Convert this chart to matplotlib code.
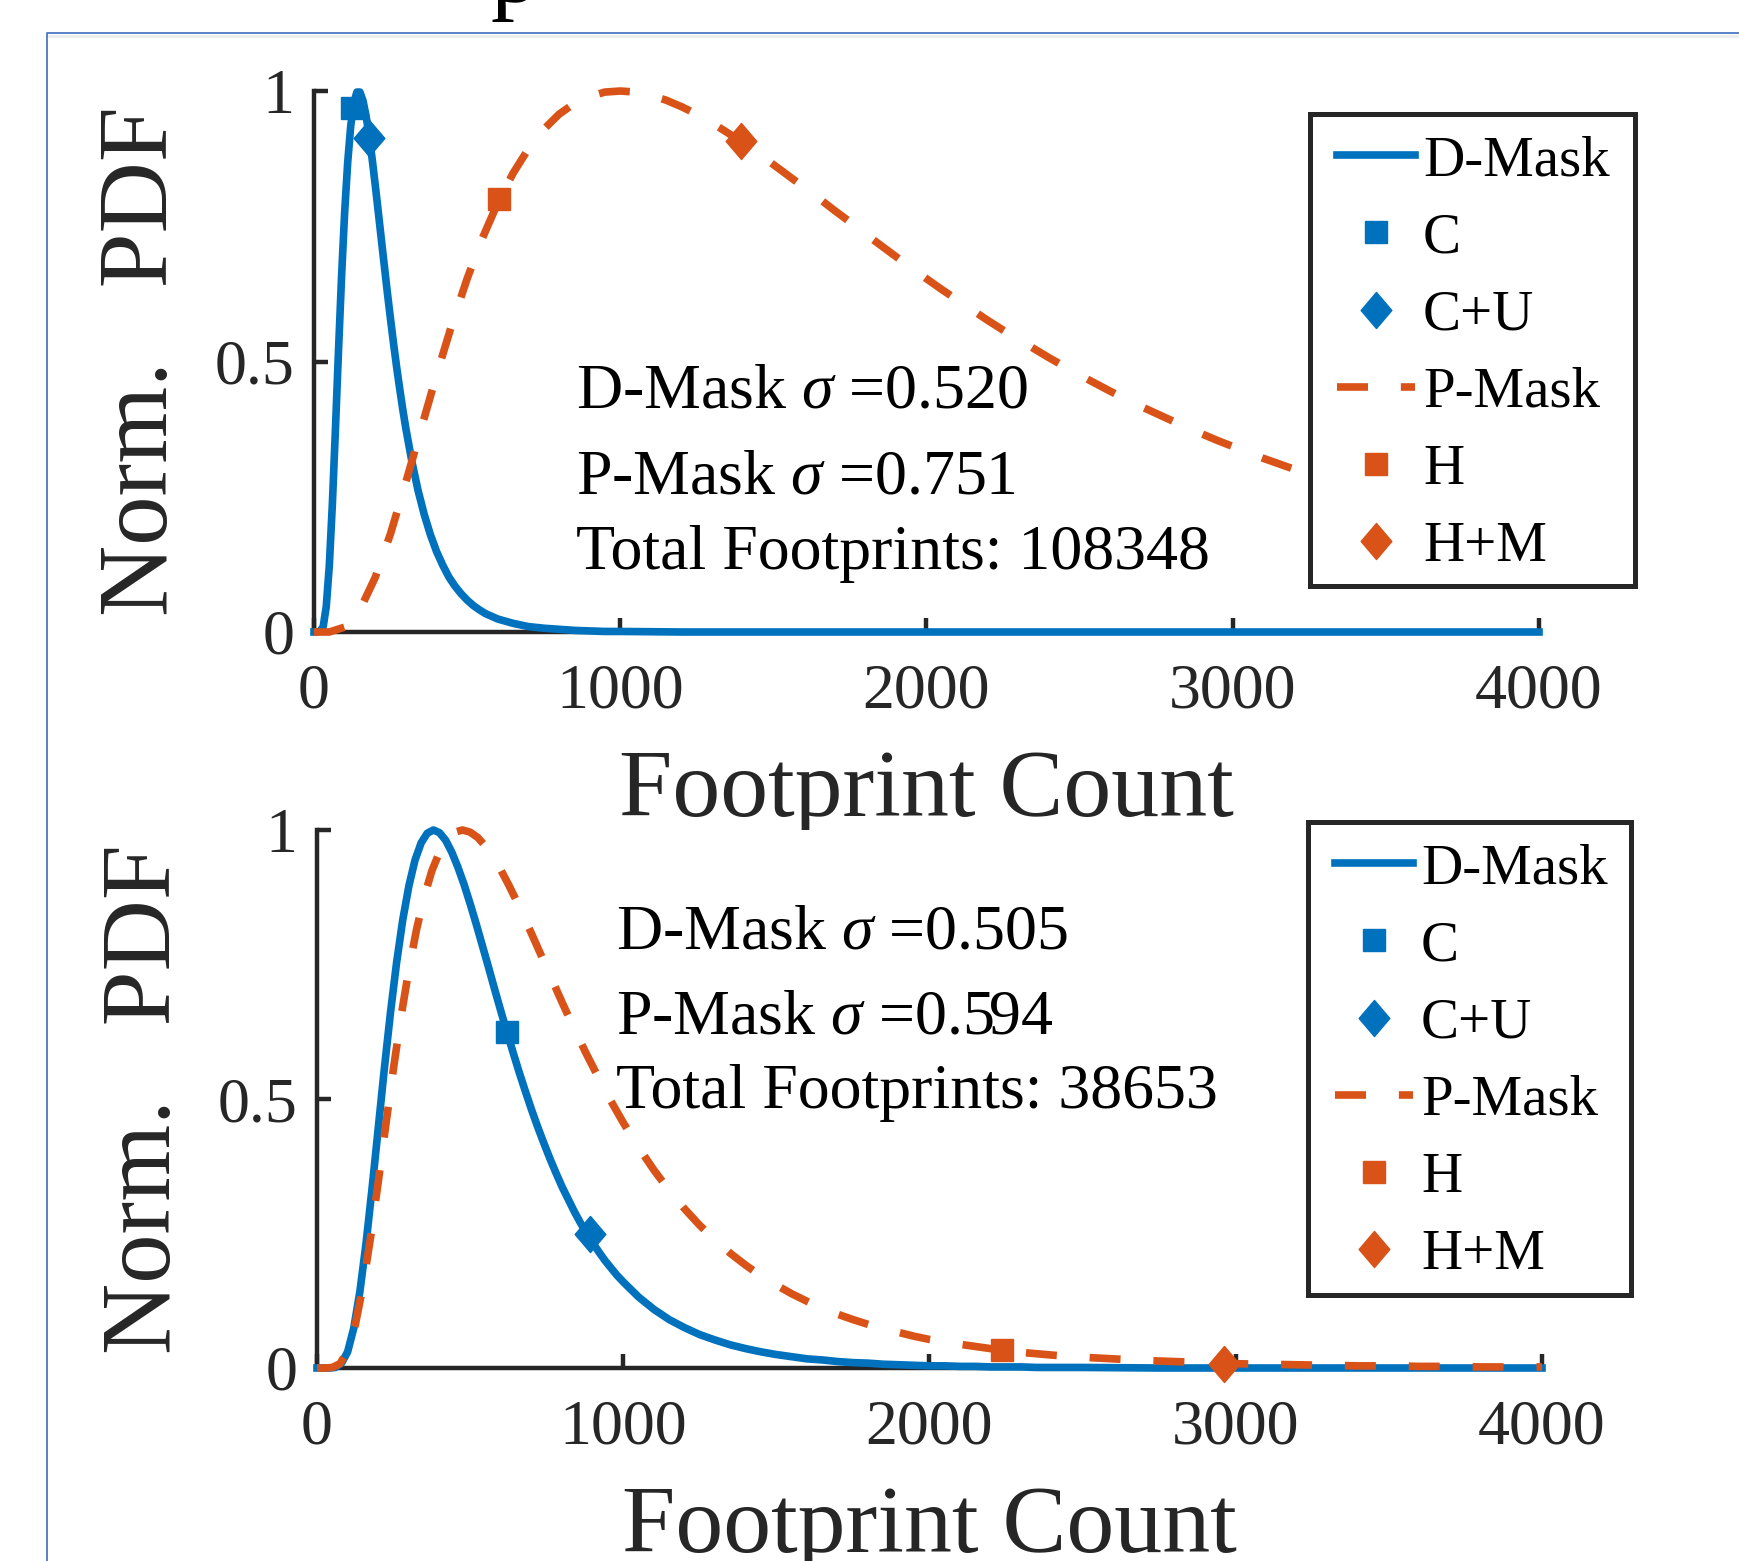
import numpy as np
import matplotlib
matplotlib.use("Agg")
import matplotlib.pyplot as plt
from matplotlib.lines import Line2D
from matplotlib.patches import Rectangle
from matplotlib.path import Path

plt.rcParams['font.family'] = ['Liberation Serif', 'DejaVu Serif']
plt.rcParams['mathtext.fontset'] = 'custom'
plt.rcParams['mathtext.rm'] = 'Liberation Serif'
plt.rcParams['mathtext.it'] = 'Liberation Serif:italic'

# ---- curves (normalised PDF, in thousandths) ----
top_d_x = [0] + list(range(10, 300, 10)) + list(range(300, 600, 20)) + list(range(600, 1001, 50)) + [1200, 2000, 4000]
top_d_y = np.array([0,
    0, 1, 10, 47, 123, 237, 375, 520, 657, 775, 868, 936, 978, 998, 998, 982, 954, 917, 874, 826,
    776, 725, 675, 625, 578, 532, 489, 449, 411, 376, 314, 261, 217, 180, 149, 124, 102, 85, 71, 59,
    49, 41, 34, 29, 24, 16, 10, 7, 5, 3, 2, 1, 1,
    0, 0, 0]) / 1000

top_p_x = [0] + list(range(50, 4001, 50))
top_p_y = np.array([0,
    0, 9, 41, 101, 182, 277, 376, 475, 568, 653, 728, 793, 848, 893, 929, 957, 977, 990, 998, 1000,
    998, 992, 983, 971, 957, 941, 923, 905, 885, 864, 843, 822, 801, 779, 758, 736, 715, 694, 673, 653,
    633, 614, 595, 576, 558, 541, 524, 507, 491, 475, 460, 445, 431, 417, 404, 391, 378, 366, 354, 343,
    332, 321, 311, 301, 292, 283, 274, 265, 257, 249, 241, 233, 226, 219, 213, 206, 200, 194, 188, 182]) / 1000

bot_d_x = [0] + list(range(20, 1000, 20)) + list(range(1000, 2500, 50)) + list(range(2500, 4001, 250))
bot_d_y = np.array([0,
    0, 0, 1, 9, 30, 74, 142, 231, 335, 446, 557, 661, 754, 833, 896, 944, 976, 994, 1000, 995,
    981, 959, 931, 899, 863, 825, 785, 745, 704, 664, 625, 587, 550, 515, 481, 449, 419, 390, 363, 337,
    314, 291, 270, 251, 233, 216, 200, 186, 172, 160, 132, 109, 90, 75, 62, 52, 43, 36, 30, 25,
    21, 17, 15, 12, 10, 9, 7, 6, 5, 4, 4, 3, 3, 2, 2, 2, 1, 1, 1, 1,
    0, 0, 0, 0, 0, 0]) / 1000

bot_p_x = [0] + list(range(25, 1000, 25)) + list(range(1000, 2000, 50)) + list(range(2000, 4001, 100))
bot_p_y = np.array([0,
    0, 1, 8, 32, 80, 152, 243, 346, 453, 558, 655, 741, 815, 876, 924, 959, 983, 996, 1000, 996,
    986, 970, 950, 926, 899, 870, 839, 808, 776, 744, 712, 680, 649, 619, 589, 561, 533, 506, 481, 456,
    410, 368, 330, 296, 265, 238, 213, 191, 171, 154, 138, 124, 111, 100, 90, 81, 73, 66, 59, 53,
    44, 36, 29, 24, 20, 17, 14, 12, 10, 8, 7, 6, 5, 4, 4, 3, 3, 2, 2, 2]) / 1000

# markers: C, C+U, H, H+M
top_mark_x = [123, 181, 605, 1395]
top_mark_y = [0.969, 0.914, 0.80, 0.908]
bot_mark_x = [620, 892, 2238, 2963]
bot_mark_y = [0.624, 0.25, 0.033, 0.008]

top_sigma = ['0.520', '0.751']
bot_sigma = ['0.505', '0.594']
top_total = '108348'
bot_total = '38653'

legend_labels = ['D-Mask', 'C', 'C+U', 'P-Mask', 'H', 'H+M']
xticks = [0, 1000, 2000, 3000, 4000]
yticks = [0, 0.5, 1]
ytick_labels = ['0', '0.5', '1']

blue = '#0072BD'
orange = '#D95319'
dark = '#262626'

W, H = 1740, 1561
fig = plt.figure(figsize=(W / 100, H / 100), dpi=100)

diamond = Path([(0, 1), (0.85, 0), (0, -1), (-0.85, 0), (0, 1)],
               [Path.MOVETO, Path.LINETO, Path.LINETO, Path.LINETO, Path.CLOSEPOLY])

# page frame and the cut-off letter above it
fig.add_artist(Line2D([46.7 / W, 46.7 / W, 1], [0, 1 - 33 / H, 1 - 33 / H],
                      transform=fig.transFigure, color='#4a78c0', lw=1.3))
fig.add_artist(Line2D([49 / W, 1], [1 - 36 / H, 1 - 36 / H],
                      transform=fig.transFigure, color='#ececec', lw=2.0))
fig.text(491 / W, 1 - 2 / H, 'p', fontsize=69, va='baseline', ha='left', color='black')


def panel(rect, dx, dy, px, py, mx, my, sig, total, txt_xy, box, leg_xy):
    ax = fig.add_axes(rect)
    lw = 5.5
    dash = (0, (4.06, 4.3))
    ax.plot(dx, dy, color=blue, lw=lw, clip_on=False, zorder=3)
    ax.plot(mx[0], my[0], ls='none', marker='s', ms=16, color=blue, mew=1, clip_on=False, zorder=4)
    ax.plot(mx[1], my[1], ls='none', marker=diamond, ms=26, color=blue, mew=1, clip_on=False, zorder=4)
    ax.plot(px, py, color=orange, lw=lw, ls=dash, clip_on=False, zorder=5)
    ax.plot(mx[2], my[2], ls='none', marker='s', ms=16, color=orange, mew=1, clip_on=False, zorder=6)
    ax.plot(mx[3], my[3], ls='none', marker=diamond, ms=26, color=orange, mew=1, clip_on=False, zorder=6)

    ax.set_xlim(0, 4000)
    ax.set_ylim(0, 1)
    ax.set_xticks(xticks)
    ax.set_xticklabels([str(t) for t in xticks])
    ax.set_yticks(yticks)
    ax.set_yticklabels(ytick_labels)
    for s in ['top', 'right']:
        ax.spines[s].set_visible(False)
    for s in ['left', 'bottom']:
        ax.spines[s].set_linewidth(3.2)
        ax.spines[s].set_color(dark)
    ax.tick_params(axis='both', direction='in', length=10, width=3.2, color=dark,
                   labelsize=46, labelcolor=dark)
    ax.tick_params(axis='x', pad=23)
    ax.tick_params(axis='y', pad=14)
    ax.set_xlabel('Footprint Count', fontsize=69, color=dark, labelpad=20)
    ax.set_ylabel('Norm.   PDF', fontsize=71, color=dark, labelpad=19)

    tx, ty = txt_xy
    lines = ['D-Mask $\\mathit{\\sigma}$ =' + sig[0],
             'P-Mask $\\mathit{\\sigma}$ =' + sig[1],
             'Total Footprints: ' + total]
    for i, t in enumerate(lines):
        ax.text(tx, ty[i], t, fontsize=46, color='black', va='baseline', ha='left', zorder=7)

    # legend frame drawn separately so box and rows can be placed like the reference
    x0, y0, x1, y1 = box
    ax.add_patch(Rectangle((x0 / W, 1 - y1 / H), (x1 - x0) / W, (y1 - y0) / H,
                           transform=fig.transFigure, facecolor='white', edgecolor=dark,
                           lw=3.6, clip_on=False, zorder=9))
    handles = [Line2D([], [], color=blue, lw=lw),
               Line2D([], [], ls='none', marker='s', ms=16, color=blue, mew=1),
               Line2D([], [], ls='none', marker=diamond, ms=26, color=blue, mew=1),
               Line2D([], [], color=orange, lw=lw, ls=dash),
               Line2D([], [], ls='none', marker='s', ms=16, color=orange, mew=1),
               Line2D([], [], ls='none', marker=diamond, ms=26, color=orange, mew=1)]
    leg = ax.legend(handles, legend_labels, loc='upper left', bbox_to_anchor=leg_xy,
                    bbox_transform=fig.transFigure, borderaxespad=0, fontsize=41,
                    frameon=False, borderpad=0, labelspacing=0.443,
                    handlelength=1.37, handletextpad=0.14, numpoints=1)
    leg.set_zorder(10)
    return ax


panel([314 / W, 1 - 632 / H, 1225 / W, 541 / H], top_d_x, top_d_y, top_p_x, top_p_y,
      top_mark_x, top_mark_y, top_sigma, top_total,
      (855, [0.415, 0.256, 0.117]), (1310, 114, 1635, 586), (1337 / W, 1 - 135 / H))
panel([317 / W, 1 - 1368 / H, 1225 / W, 538 / H], bot_d_x, bot_d_y, bot_p_x, bot_p_y,
      bot_mark_x, bot_mark_y, bot_sigma, bot_total,
      (975, [0.78, 0.622, 0.483]), (1308, 822, 1631, 1295), (1335 / W, 1 - 843 / H))

plt.savefig('out.png', dpi=100)
